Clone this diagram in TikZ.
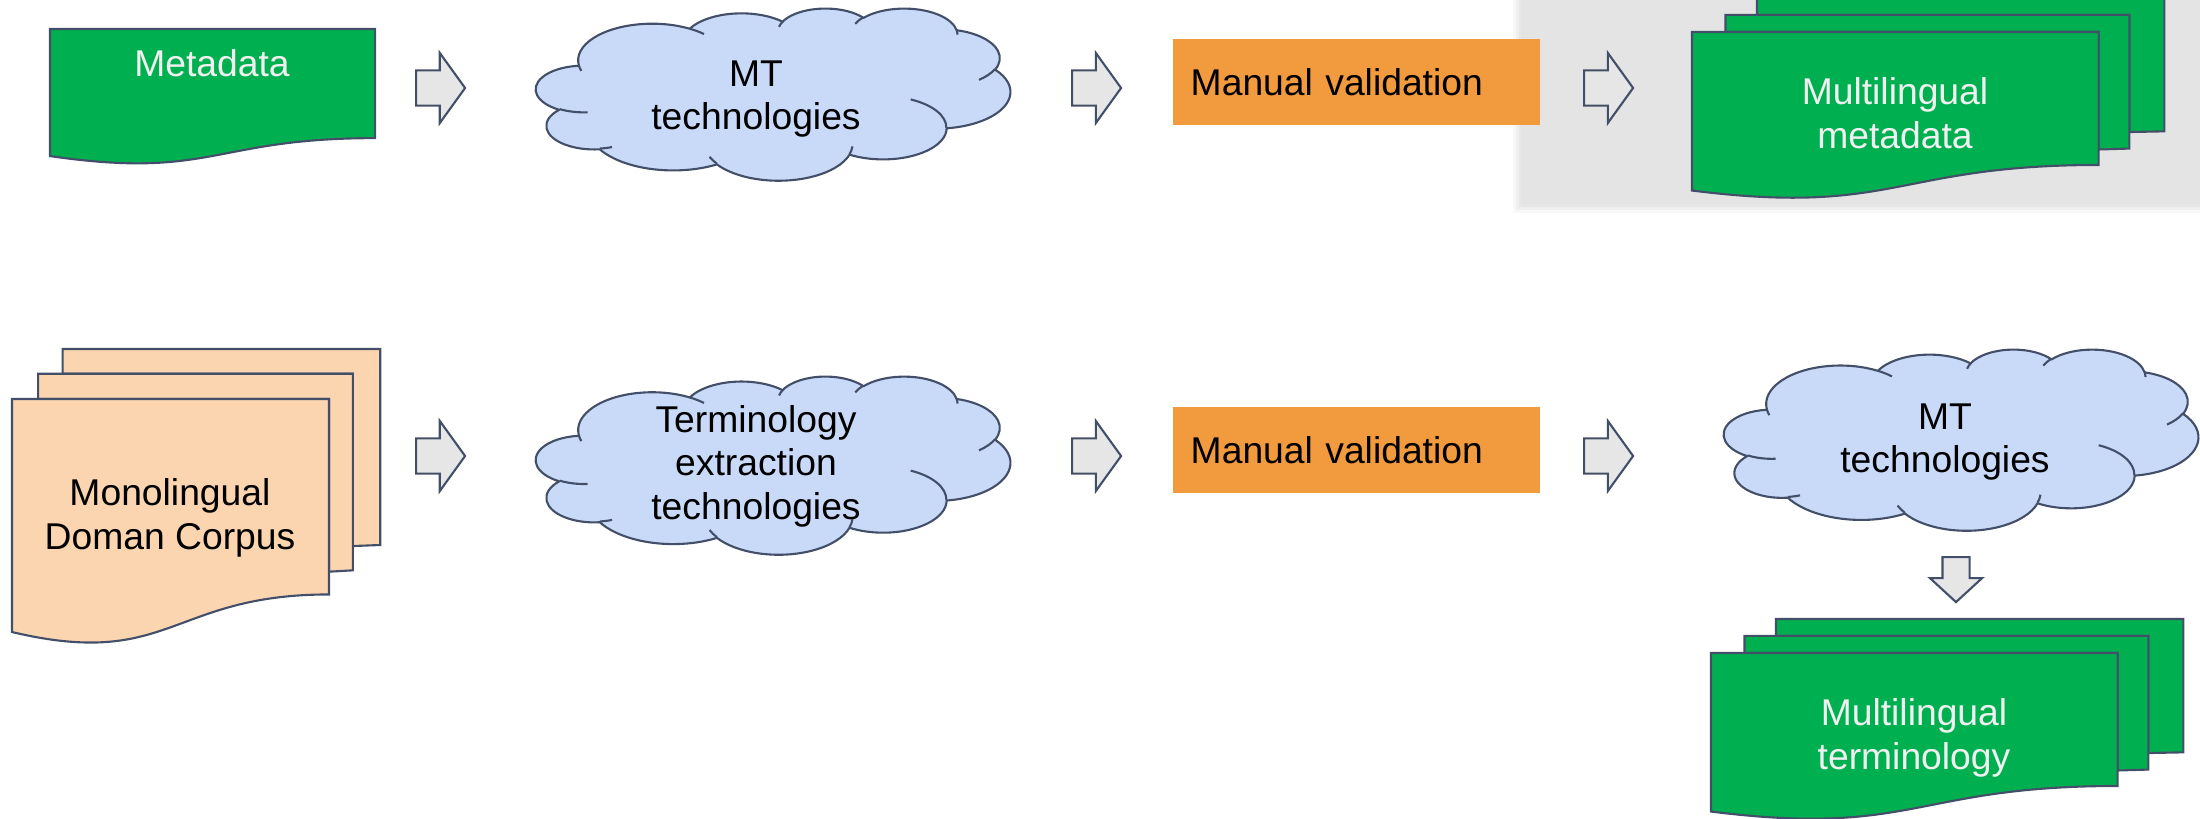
\documentclass[tikz,border=0pt]{standalone}
\usepackage{fontspec}
\setmainfont{Liberation Sans}
\usetikzlibrary{math,shapes.arrows}

\definecolor{outline}{RGB}{67,79,104}
\definecolor{docgreen}{RGB}{0,176,80}
\definecolor{valorange}{RGB}{242,154,62}
\definecolor{cloudblue}{RGB}{201,218,248}
\definecolor{corpuspeach}{RGB}{250,213,176}
\definecolor{arrowgray}{RGB}{230,230,230}
\definecolor{panelgray}{RGB}{228,228,228}
\definecolor{doctext}{RGB}{240,240,240}

% cloud drawn in a 100 x 100 box: left, top, width, height, fill
\newcommand{\cloudshape}[5]{%
  \begin{scope}[shift={(#1,#2)}, x={#3/100*0.2845276pt}, y={-#4/100*0.2845276pt}, line width=0.6pt]
    \path[draw=outline, fill=#5, line join=round]
      (9.03,33.26)
      arc[start angle=172.25, delta angle=128.11, x radius=15.63, y radius=21.27]
      arc[start angle=-152.04, delta angle=106.59, x radius=12.35, y radius=16.82]
      arc[start angle=-153.49, delta angle=116.17, x radius=10.10, y radius=13.76]
      arc[start angle=-139.70, delta angle=129.49, x radius=11.24, y radius=15.27]
      arc[start angle=-74.77, delta angle=97.98, x radius=12.35, y radius=16.84]
      arc[start angle=-37.52, delta angle=119.38, x radius=15.68, y radius=21.34]
      arc[start angle=0.46, delta angle=121.52, x radius=13.39, y radius=18.21]
      arc[start angle=16.84, delta angle=129.38, x radius=15.63, y radius=21.33]
      arc[start angle=58.99, delta angle=91.21, x radius=17.87, y radius=24.41]
      arc[start angle=83.31, delta angle=139.80, x radius=10.09, y radius=13.70]
      arc[start angle=120.36, delta angle=143.75, x radius=10.06, y radius=13.76]
      -- cycle;
    % the small inner strokes
    \draw[outline]
      (10.86,60.60) arc[start angle=85.55, delta angle=34.81, x radius=10.06, y radius=13.76]
      (16.04,80.79) arc[start angle=68.23, delta angle=15.07, x radius=10.09, y radius=13.70]
      (38.14,90.49) arc[start angle=146.23, delta angle=12.25, x radius=15.63, y radius=21.33]
      (66.73,80.44) arc[start angle=4.74, delta angle=12.11, x radius=15.63, y radius=21.33]
      (79.00,53.13) arc[start angle=-64.03, delta angle=64.49, x radius=13.39, y radius=18.21]
      (96.76,35.54) arc[start angle=23.21, delta angle=26.44, x radius=12.35, y radius=16.84]
      (88.71,12.56) arc[start angle=-10.21, delta angle=11.03, x radius=11.24, y radius=15.27]
      (67.31,9.15) arc[start angle=-156.29, delta angle=16.59, x radius=11.24, y radius=15.27]
      (51.25,10.93) arc[start angle=-167.73, delta angle=14.23, x radius=10.10, y radius=13.76]
      (32.41,12.02) arc[start angle=-59.64, delta angle=13.90, x radius=15.63, y radius=21.27]
      (9.55,36.55) arc[start angle=163.19, delta angle=9.06, x radius=15.63, y radius=21.27];
  \end{scope}}

% one page with a wavy foot
\newcommand{\docshape}[5]{%
  \begin{scope}[shift={(#1,#2)}, x={#3/100*0.2845276pt}, y={-#4/100*0.2845276pt}, line width=0.6pt]
    \path[draw=outline, fill=#5] (0,0) -- (100,0) -- (100,80.19)
      .. controls (50,80.19) and (50,110.75) .. (0,93.39) -- cycle;
  \end{scope}}

% three stacked pages
\newcommand{\multidocshape}[5]{%
  \begin{scope}[shift={(#1,#2)}, x={#3/100*0.2845276pt}, y={-#4/100*0.2845276pt}, line width=0.6pt]
    \path[draw=outline, fill=#5] (13.76,8.40) -- (13.76,0) -- (100,0) -- (100,66.63)
      -- (92.59,66.98) -- (92.59,8.40) -- cycle;
    \path[draw=outline, fill=#5] (7.09,17.01) -- (7.09,8.40) -- (92.59,8.40) -- (92.59,75.24)
      -- (86.09,75.70) -- (86.09,17.01) -- cycle;
    \path[draw=outline, fill=#5] (0,17.01) -- (86.09,17.01) -- (86.09,83.44)
      .. controls (43.05,83.44) and (43.05,108.99) .. (0,96.21) -- cycle;
  \end{scope}}

\begin{document}
\begin{tikzpicture}[x=0.01cm, y=-0.01cm,
    every node/.style={font=\fontsize{10.6}{12.4}\selectfont},
    doclabel/.style={text=doctext, align=center},
    cloudlabel/.style={text=black, align=center},
    checkbox/.style={fill=valorange, anchor=west, inner xsep=0.18cm, text width=3.31cm,
      align=left, minimum height=0.86cm},
    blockarrow/.style={single arrow, draw=outline, fill=arrowgray, line width=0.6pt,
      anchor=tail, inner xsep=0pt, inner ysep=0.165cm, single arrow head extend=0.175cm,
      single arrow tip angle=108.4, minimum height=0.49cm},
    downarrow/.style={blockarrow, rotate=-90, inner ysep=0.125cm,
      single arrow head extend=0.125cm, single arrow tip angle=94.8, minimum height=0.45cm}]
  \tikzmath{\rowA = 88; \rowB = 456;}
  \useasboundingbox (0,0) rectangle (2200,818);
  % soft grey panel behind the multilingual metadata
  \foreach \e/\o in {8/0.25,5/0.45,2/0.7}
    \fill[panelgray, opacity=\o] (1521-\e,0) rectangle (2200,205+\e);
  \fill[panelgray] (1521,0) rectangle (2200,205);

  % metadata row
  \docshape{50}{29}{325}{136}{docgreen}
  \node[doclabel, anchor=base] (meta) at (212,77) {Metadata};
  \node[blockarrow] (a1) at (415,\rowA) {};
  \cloudshape{536}{8}{474}{172}{cloudblue}
  \node[cloudlabel] (mt1) at (756,99) {MT\\technologies};
  \node[blockarrow] (a2) at (1071,\rowA) {};
  \node[checkbox] (val1) at (1172,82) {Manual validation};
  \node[blockarrow] (a3) at (1583,\rowA) {};
  \multidocshape{1692}{-2}{472}{200}{docgreen}
  \node[doclabel] (multimeta) at (1895,113) {Multilingual\\metadata};

  % terminology row
  \multidocshape{12}{349}{368}{294}{corpuspeach}
  \node[cloudlabel] (corpus) at (170,518) {Monolingual\\Doman Corpus};
  \node[blockarrow] (b1) at (415,\rowB) {};
  \cloudshape{536}{376}{474}{178}{cloudblue}
  \node[cloudlabel] (term) at (756,466) {Terminology\\extraction\\technologies};
  \node[blockarrow] (b2) at (1071,\rowB) {};
  \node[checkbox] (val2) at (1172,450) {Manual validation};
  \node[blockarrow] (b3) at (1583,\rowB) {};
  \cloudshape{1724}{349}{474}{181}{cloudblue}
  \node[cloudlabel] (mt2) at (1945,442) {MT\\technologies};
  \node[downarrow] (b4) at (1956,556) {};
  \multidocshape{1711}{619}{472}{200}{docgreen}
  \node[doclabel] (multiterm) at (1914,738) {Multilingual\\terminology};
\end{tikzpicture}
\end{document}
